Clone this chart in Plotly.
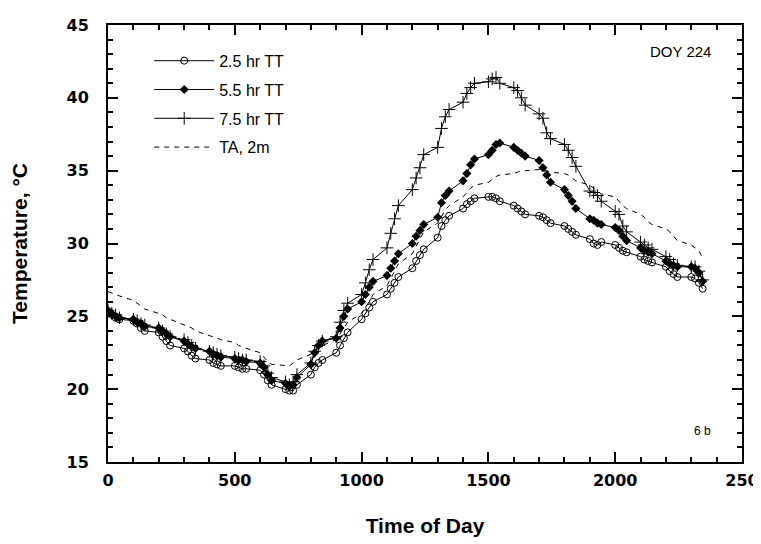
import plotly.graph_objects as go

# Time of day (HHMM), 15-minute records
hours = list(range(24))
minutes = [0, 15, 30, 45]
time_hhmm = [h * 100 + m for h in hours for m in minutes]

tt_2_5 = [
    25.3, 25.1, 24.9, 24.8,
    24.7, 24.5, 24.2, 24.0,
    23.9, 23.6, 23.3, 23.0,
    22.8, 22.6, 22.3, 22.1,
    22.0, 21.8, 21.7, 21.6,
    21.6, 21.5, 21.4, 21.4,
    21.3, 21.0, 20.6, 20.3,
    20.0, 19.9, 19.9, 20.3,
    21.0, 21.5, 21.8, 22.0,
    22.5, 23.0, 23.5, 23.9,
    24.8, 25.2, 25.6, 26.0,
    26.5, 26.9, 27.3, 27.7,
    28.3, 28.8, 29.2, 29.6,
    30.4, 31.2, 31.6, 31.9,
    32.4, 32.7, 32.9, 33.1,
    33.2, 33.2, 33.1, 32.9,
    32.6, 32.4, 32.2, 32.0,
    31.9, 31.8, 31.6, 31.4,
    31.2, 31.0, 30.8, 30.6,
    30.3, 30.0, 29.9, 30.1,
    29.9, 29.7, 29.5, 29.4,
    29.1, 28.9, 28.8, 28.7,
    28.4, 28.1, 27.9, 27.7,
    27.7, 27.6, 27.3, 26.9,
]

tt_5_5 = [
    25.4, 25.2, 25.0, 24.9,
    24.8, 24.6, 24.5, 24.3,
    24.2, 24.0, 23.8, 23.6,
    23.3, 23.1, 22.9, 22.8,
    22.6, 22.4, 22.3, 22.2,
    22.1, 22.0, 22.0, 21.9,
    21.8, 21.5, 21.0, 20.6,
    20.4, 20.2, 20.3, 20.8,
    21.7, 22.5, 23.0, 23.3,
    23.5, 24.2, 25.0, 25.5,
    26.0, 26.5, 27.0, 27.4,
    27.8, 28.3, 28.8, 29.3,
    30.0, 30.5, 30.9, 31.3,
    31.8, 32.8, 33.3, 33.6,
    34.3, 34.8, 35.4, 35.8,
    36.1, 36.4, 36.8, 36.9,
    36.6, 36.4, 36.2, 36.0,
    35.7, 35.2, 34.7, 34.2,
    33.7, 33.3, 32.9, 32.4,
    31.7, 31.6, 31.4, 31.3,
    31.1, 30.9, 30.5, 30.2,
    29.7, 29.5, 29.4, 29.3,
    28.8, 28.6, 28.5, 28.4,
    28.4, 28.3, 28.0, 27.4,
]

tt_7_5 = [
    25.4, 25.2, 25.1, 24.9,
    24.8, 24.7, 24.5, 24.4,
    24.2, 24.0, 23.8, 23.6,
    23.4, 23.2, 23.0, 22.8,
    22.6, 22.5, 22.4, 22.3,
    22.2, 22.1, 22.0, 22.0,
    21.9, 21.6, 21.1, 20.8,
    20.5, 20.3, 20.5, 21.0,
    21.8, 22.6, 23.0, 23.3,
    23.6, 24.6, 25.4, 25.9,
    26.5, 27.3, 28.2, 28.9,
    29.7, 30.7, 31.7, 32.6,
    33.7, 34.5, 35.2, 36.1,
    36.6, 37.9, 38.7, 39.2,
    39.7, 40.3, 40.7, 41.0,
    41.1, 41.3, 41.4, 41.0,
    40.7, 40.5, 40.0, 39.5,
    38.9, 38.6, 37.6, 37.2,
    36.8, 36.4, 35.9, 35.3,
    33.6, 33.5, 33.3, 32.9,
    32.2, 32.0, 31.2, 30.8,
    30.1, 29.9, 29.7, 29.6,
    29.1, 28.9, 28.6, 28.5,
    28.4, 28.4, 28.1, 27.5,
]

ta_2m = [
    26.7, 26.6, 26.5, 26.4,
    26.1, 25.9, 25.7, 25.5,
    25.2, 25.1, 24.9, 24.8,
    24.4, 24.3, 24.2, 24.0,
    23.7, 23.6, 23.5, 23.4,
    23.2, 23.0, 22.9, 22.8,
    22.5, 22.2, 21.9, 21.7,
    21.6, 21.6, 21.8, 22.0,
    22.4, 22.6, 22.8, 23.0,
    23.4, 23.8, 24.2, 24.6,
    25.2, 25.6, 26.0, 26.5,
    27.1, 27.6, 28.1, 28.6,
    29.3, 29.8, 30.3, 30.8,
    31.4, 31.9, 32.3, 32.6,
    33.2, 33.5, 33.8, 34.0,
    34.2, 34.4, 34.6, 34.7,
    34.8, 34.9, 35.0, 35.0,
    35.1, 35.1, 35.0, 34.9,
    34.8, 34.7, 34.5, 34.3,
    34.0, 33.8, 33.6, 33.4,
    33.2, 32.9, 32.6, 32.4,
    32.0, 31.8, 31.5, 31.3,
    31.0, 30.8, 30.5, 30.2,
    29.9, 29.7, 29.5, 29.0,
]

x_tickvals = [0, 500, 1000, 1500, 2000, 2500]
x_ticktext = ["0", "500", "1000", "1500", "2000", "250"]
y_tickvals = [15, 20, 25, 30, 35, 40, 45]

fig = go.Figure()

fig.add_trace(go.Scatter(
    x=time_hhmm, y=tt_2_5, name="2.5 hr TT", mode="lines+markers",
    legendgroup="a",
    line=dict(color="black", width=1),
    marker=dict(symbol="circle-open", size=7, color="black", line=dict(width=1, color="black")),
))
fig.add_trace(go.Scatter(
    x=time_hhmm, y=tt_5_5, name="5.5 hr TT", mode="lines+markers",
    legendgroup="b",
    line=dict(color="black", width=1),
    marker=dict(symbol="diamond", size=7, color="black"),
))
fig.add_trace(go.Scatter(
    x=time_hhmm, y=tt_7_5, name="7.5 hr TT", mode="lines+markers",
    legendgroup="c",
    line=dict(color="black", width=1),
    marker=dict(symbol="cross-thin", size=9, color="black", line=dict(width=1, color="black")),
))
fig.add_trace(go.Scatter(
    x=time_hhmm, y=ta_2m, name="TA, 2m", mode="lines",
    legendgroup="d",
    line=dict(color="black", width=1, dash="5px,5px"),
))

tick_font = dict(family="DejaVu Sans", size=16, color="black", weight="bold")
title_font = dict(family="Liberation Sans, Arial", size=21, color="black", weight="bold")

fig.update_layout(
    width=753, height=536,
    margin=dict(l=100, r=19, t=17, b=82),
    paper_bgcolor="white", plot_bgcolor="white",
    showlegend=True,
    legend=dict(
        x=0.065, y=0.957, xanchor="left", yanchor="top",
        font=dict(family="Liberation Sans, Arial", size=16, color="black"),
        bgcolor="rgba(0,0,0,0)", itemwidth=60, tracegroupgap=5,
        traceorder="grouped",
    ),
    annotations=[
        dict(text="DOY 224", x=0.955, y=0.964, xref="paper", yref="paper",
             xanchor="right", yanchor="top", showarrow=False,
             font=dict(family="Liberation Sans, Arial", size=15, color="black")),
        dict(text="6 b", x=0.955, y=0.07, xref="paper", yref="paper",
             xanchor="right", yanchor="middle", showarrow=False,
             font=dict(family="Liberation Sans Narrow, Liberation Sans, Arial", size=12, color="black")),
    ],
)

fig.update_xaxes(
    range=[0, 2500], tickvals=x_tickvals, ticktext=x_ticktext,
    showgrid=False, zeroline=False, automargin=False,
    showline=True, linecolor="black", linewidth=2, mirror="ticks",
    ticks="inside", ticklen=10, tickwidth=1.5, tickcolor="black",
    minor=dict(dtick=100, ticks="inside", ticklen=5, tickwidth=1.5, tickcolor="black", showgrid=False),
    tickfont=tick_font, ticklabelstandoff=3,
    title=dict(text="Time of Day", font=title_font, standoff=29),
)
fig.update_yaxes(
    range=[15, 45], tickvals=y_tickvals,
    showgrid=False, zeroline=False, automargin=False,
    showline=True, linecolor="black", linewidth=2, mirror="ticks",
    ticks="inside", ticklen=10, tickwidth=1.5, tickcolor="black",
    minor=dict(dtick=1, ticks="inside", ticklen=5, tickwidth=1.5, tickcolor="black", showgrid=False),
    tickfont=tick_font, ticklabelstandoff=14,
    title=dict(text="Temperature, °C", font=title_font, standoff=37),
)

fig.write_html("out.html")
